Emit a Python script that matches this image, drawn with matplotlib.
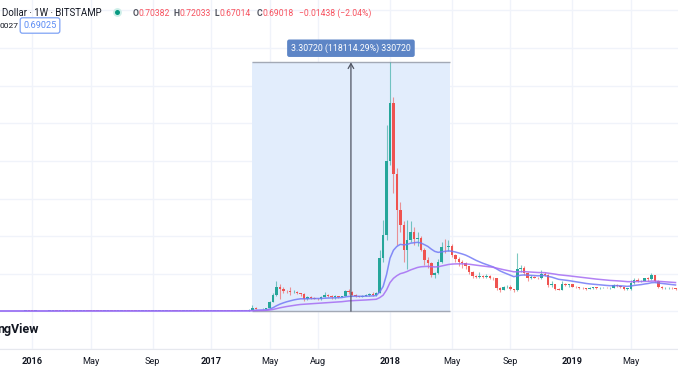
import numpy as np
import pandas as pd
import matplotlib
matplotlib.use("Agg")
import matplotlib.pyplot as plt
import matplotlib.dates as mdates

W, H = 678, 381

# --------------------------------------------------------------------------- #
# weekly XRP / U.S. Dollar candles (Bitstamp), bars open on Monday
# --------------------------------------------------------------------------- #
first_bar = "2015-10-12"

# Oct 2015 .. early Mar 2017: the price sits on the floor of the chart
flat_close = [
    0.0051, 0.0050, 0.0048,                          # Oct 2015
    0.0043, 0.0040, 0.0038, 0.0037, 0.0036,          # Nov
    0.0058, 0.0060, 0.0062, 0.0060,                  # Dec
    0.0059, 0.0063, 0.0055, 0.0058,                  # Jan 2016
    0.0060, 0.0075, 0.0083, 0.0081, 0.0085,          # Feb
    0.0088, 0.0078, 0.0074, 0.0071,                  # Mar
    0.0070, 0.0072, 0.0073, 0.0070,                  # Apr
    0.0068, 0.0063, 0.0060, 0.0059, 0.0062,          # May
    0.0064, 0.0061, 0.0059, 0.0062,                  # Jun
    0.0066, 0.0065, 0.0063, 0.0062,                  # Jul
    0.0060, 0.0060, 0.0063, 0.0064, 0.0062,          # Aug
    0.0066, 0.0071, 0.0079, 0.0082,                  # Sep
    0.0091, 0.0088, 0.0084, 0.0079, 0.0074,          # Oct
    0.0078, 0.0080, 0.0081, 0.0078,                  # Nov
    0.0074, 0.0068, 0.0065, 0.0063,                  # Dec
    0.0064, 0.0067, 0.0069, 0.0066, 0.0064,          # Jan 2017
    0.0063, 0.0064, 0.0062, 0.0064,                  # Feb
    0.0068,                                          # Mar 6
]

# from the week of 2017-03-13 on
close = [
    0.0095, 0.022, 0.050, 0.034, 0.032, 0.035, 0.045,          # Mar-Apr 2017
    0.13, 0.22, 0.32, 0.30, 0.275,                              # May
    0.27, 0.255, 0.262, 0.245,                                  # Jun
    0.23, 0.16, 0.19, 0.18, 0.17,                               # Jul
    0.165, 0.19, 0.215, 0.20,                                   # Aug
    0.19, 0.20, 0.19, 0.20,                                     # Sep
    0.275, 0.26, 0.22, 0.20, 0.195,                             # Oct
    0.205, 0.215, 0.23, 0.22,                                   # Nov
    0.25, 0.71, 1.02, 2.00,                                     # Dec
    2.77, 1.82, 1.35, 1.15, 0.82,                               # Jan 2018
    0.95, 1.06, 0.96, 0.98,                                     # Feb
    0.82, 0.68, 0.64, 0.49,                                     # Mar
    0.51, 0.66, 0.86, 0.85, 0.87,                               # Apr
    0.75, 0.70, 0.65, 0.64,                                     # May
    0.60, 0.52, 0.47, 0.46,                                     # Jun
    0.47, 0.46, 0.47, 0.45, 0.44,                               # Jul
    0.31, 0.29, 0.32, 0.33,                                     # Aug
    0.30, 0.28, 0.56, 0.58,                                     # Sep
    0.51, 0.45, 0.46, 0.45, 0.44,                               # Oct
    0.50, 0.49, 0.35, 0.37,                                     # Nov
    0.30, 0.29, 0.37, 0.35, 0.36,                               # Dec
    0.33, 0.32, 0.315, 0.31,                                    # Jan 2019
    0.30, 0.31, 0.32, 0.31,                                     # Feb
    0.31, 0.315, 0.31, 0.31,                                    # Mar
    0.35, 0.34, 0.32, 0.30,                                     # Apr
    0.30, 0.38, 0.42, 0.40,                                     # May
    0.41, 0.44, 0.43, 0.48,                                     # Jun
    0.41, 0.33, 0.31, 0.31, 0.315,                              # Jul
    0.31, 0.30,                                                 # Aug
]
high = [
    0.011, 0.030, 0.090, 0.055, 0.036, 0.040, 0.050,
    0.14, 0.24, 0.40, 0.36, 0.33,
    0.29, 0.32, 0.28, 0.27,
    0.25, 0.245, 0.21, 0.20, 0.185,
    0.18, 0.20, 0.26, 0.23,
    0.215, 0.22, 0.205, 0.21,
    0.29, 0.30, 0.27, 0.23, 0.21,
    0.215, 0.23, 0.24, 0.26,
    0.26, 0.82, 1.22, 2.48,
    3.31, 2.85, 1.90, 1.45, 1.20,
    1.22, 1.20, 1.12, 1.05,
    1.00, 0.84, 0.72, 0.66,
    0.52, 0.70, 0.92, 0.96, 0.95,
    0.90, 0.76, 0.72, 0.68,
    0.66, 0.60, 0.54, 0.49,
    0.52, 0.49, 0.50, 0.48, 0.46,
    0.44, 0.33, 0.34, 0.35,
    0.35, 0.30, 0.78, 0.62,
    0.60, 0.52, 0.48, 0.47, 0.46,
    0.55, 0.53, 0.50, 0.40,
    0.37, 0.31, 0.40, 0.38, 0.37,
    0.37, 0.34, 0.33, 0.32,
    0.31, 0.32, 0.33, 0.32,
    0.32, 0.32, 0.32, 0.32,
    0.37, 0.36, 0.34, 0.33,
    0.31, 0.42, 0.44, 0.45,
    0.42, 0.45, 0.46, 0.51,
    0.48, 0.42, 0.34, 0.33, 0.33,
    0.32, 0.31,
]
low = [
    0.0066, 0.009, 0.020, 0.030, 0.029, 0.030, 0.034,
    0.045, 0.12, 0.21, 0.17, 0.24,
    0.25, 0.22, 0.24, 0.23,
    0.21, 0.14, 0.15, 0.17, 0.16,
    0.155, 0.155, 0.185, 0.19,
    0.17, 0.16, 0.18, 0.185,
    0.20, 0.23, 0.21, 0.19, 0.185,
    0.19, 0.20, 0.21, 0.21,
    0.21, 0.24, 0.65, 0.95,
    1.95, 1.57, 0.88, 1.05, 0.65,
    0.56, 0.92, 0.88, 0.87,
    0.80, 0.62, 0.58, 0.46,
    0.44, 0.50, 0.64, 0.78, 0.80,
    0.72, 0.66, 0.60, 0.58,
    0.57, 0.50, 0.45, 0.44,
    0.45, 0.44, 0.45, 0.43, 0.42,
    0.29, 0.26, 0.28, 0.31,
    0.28, 0.26, 0.27, 0.52,
    0.49, 0.41, 0.43, 0.44, 0.43,
    0.43, 0.47, 0.33, 0.33,
    0.29, 0.28, 0.28, 0.34, 0.33,
    0.32, 0.31, 0.30, 0.30,
    0.29, 0.30, 0.30, 0.30,
    0.30, 0.305, 0.305, 0.30,
    0.31, 0.33, 0.31, 0.29,
    0.29, 0.29, 0.37, 0.39,
    0.39, 0.40, 0.41, 0.42,
    0.39, 0.31, 0.30, 0.30, 0.30,
    0.30, 0.29,
]

# time axis labels (TradingView puts them on the first bar of the period)
tick_dates = ["2016-01-04", "2016-05-02", "2016-09-05", "2017-01-02",
              "2017-05-01", "2017-08-07", "2018-01-01", "2018-05-07",
              "2018-09-03", "2019-01-07", "2019-05-06"]
tick_labels = ["2016", "May", "Sep", "2017", "May", "Aug",
               "2018", "May", "Sep", "2019", "May"]

# price range ruler drawn on the chart
measure_start, measure_end = "2017-03-26", "2018-05-03"
measure_low, measure_high = 0.0028, 3.3100
measure_text = "3.30720 (118114.29%) 330720"

header_title = "Dollar \u00b7 1W \u00b7 BITSTAMP"
ohlc_keys = ["O", "H", "L", "C"]
ohlc_vals = ["0.70382", "0.72033", "0.67014", "0.69018"]
change_text = "\u22120.01438 (\u22122.04%)"
bid_text, ask_text = "0027", "0.69025"

UP, DOWN = "#26a69a", "#ef5350"
EMA_FAST, EMA_SLOW = "#7279f6", "#a56cf3"
GRID = "#f0f3fa"
TEXT = "#131722"

plt.rcParams["font.family"] = ["Roboto", "DejaVu Sans"]


def px(x, y):
    """pixel position in the 678x381 picture -> figure fraction"""
    return x / W, 1 - y / H


# --------------------------------------------------------------------------- #
# candles
# --------------------------------------------------------------------------- #
c = pd.Series(flat_close + close)
o = c.shift(1).fillna(c.iloc[0])
h = pd.concat([pd.Series(flat_close + high), o, c], axis=1).max(axis=1)
l = pd.concat([pd.Series(flat_close + low), o, c], axis=1).min(axis=1)
dates = pd.date_range(first_bar, periods=len(c), freq="W-MON")
xd = mdates.date2num(dates)

ema_fast = c.ewm(span=20, adjust=False).mean()
ema_slow = c.ewm(span=50, adjust=False).mean()

fig = plt.figure(figsize=(W / 100, H / 100), dpi=100)
ax = fig.add_axes([0, 32 / H, 1, 1 - 32 / H])

# 3.44 px per weekly bar, the 2018-01-01 bar sits at x = 390 px
ref = mdates.date2num(pd.Timestamp("2018-01-01"))
ax.set_xlim(ref - 390 / 3.44 * 7, ref + (W - 390) / 3.44 * 7)
ax.set_ylim((311.7 - 349) / 75.3, 311.7 / 75.3)

# measure box
m0 = mdates.date2num(pd.Timestamp(measure_start))
m1 = mdates.date2num(pd.Timestamp(measure_end))
mid = (m0 + m1) / 2
ax.fill_between([m0, m1], measure_low, measure_high, color="#e2edfc",
                lw=0, zorder=1.5)
ax.hlines([measure_low, measure_high], m0, m1, colors="#a3a9b5", lw=1,
          zorder=1.6)

up = (c >= o).values
col = np.where(up, UP, DOWN)
ax.vlines(xd, l, h, colors=col, lw=0.8, alpha=0.6, zorder=3)
body = (c - o).abs().clip(lower=0.006)
ax.bar(xd, body, bottom=np.minimum(o, c), width=5.0, color=col, lw=0,
       zorder=4)

ax.plot(xd, ema_fast, color=EMA_FAST, lw=1.1, alpha=0.85, zorder=5)
ax.plot(xd, ema_slow, color=EMA_SLOW, lw=1.1, alpha=0.85, zorder=5)

ax.annotate("", xy=(mid, measure_high), xytext=(mid, measure_low),
            arrowprops=dict(arrowstyle="->,head_length=0.35,head_width=0.2",
                            color="#4f5462", lw=0.9, shrinkA=0, shrinkB=0),
            zorder=6)
ax.annotate(measure_text, xy=(mid, measure_high), xytext=(0, 10.2),
            textcoords="offset points", ha="center", va="center",
            color="white", fontsize=6.3, zorder=7,
            bbox=dict(boxstyle="round,pad=0.45,rounding_size=0.25",
                      fc="#5d85c6", ec="none"))

# grid / axis
ax.set_yticks(np.arange(-0.5, 4.01, 0.5))
ax.set_xticks(mdates.date2num(pd.to_datetime(tick_dates)))
ax.set_xticklabels(tick_labels)
ax.tick_params(axis="both", length=0)
ax.tick_params(axis="x", pad=6, labelsize=6.6, labelcolor=TEXT)
ax.tick_params(axis="y", labelleft=False)
for t in ax.get_xticklabels():
    if t.get_text().isdigit():
        t.set_fontweight("bold")
ax.grid(True, color=GRID, lw=1, zorder=0)
ax.set_axisbelow(True)
for side in ["top", "left", "right"]:
    ax.spines[side].set_visible(False)
ax.spines["bottom"].set_color("#e6e8ee")
ax.spines["bottom"].set_linewidth(0.8)

# header
fig.text(*px(2, 13), header_title, fontsize=6.9, color=TEXT, va="center")
ax.scatter(*px(117, 12), s=40, color="#cdeee8", transform=fig.transFigure,
           clip_on=False, zorder=10, lw=0)
ax.scatter(*px(117, 12), s=13, color="#089981", transform=fig.transFigure,
           clip_on=False, zorder=11, lw=0)
key_x = [133, 174, 215, 257]
val_x = [138.5, 179, 219.5, 262.5]
for k, v, kx, vx in zip(ohlc_keys, ohlc_vals, key_x, val_x):
    fig.text(*px(kx, 13), k, fontsize=6.2, color="#50535e", va="center",
             fontweight="bold")
    fig.text(*px(vx, 13), v, fontsize=6.2, color="#f7525f", va="center")
fig.text(*px(299, 13), change_text, fontsize=6.2, color="#f7525f",
         va="center")
fig.text(*px(-1, 25.5), bid_text, fontsize=6.0, color=TEXT, va="center")
fig.text(*px(40, 25.5), ask_text, fontsize=6.6, color="#5b8cf5",
         va="center", ha="center",
         bbox=dict(boxstyle="round,pad=0.35,rounding_size=0.25", fc="white",
                   ec="#7fa3f5", lw=0.9))

fig.text(*px(-3, 329), "ngView", fontsize=9, fontweight="bold", color=TEXT,
         va="center")

fig.savefig("out.png", dpi=100)
